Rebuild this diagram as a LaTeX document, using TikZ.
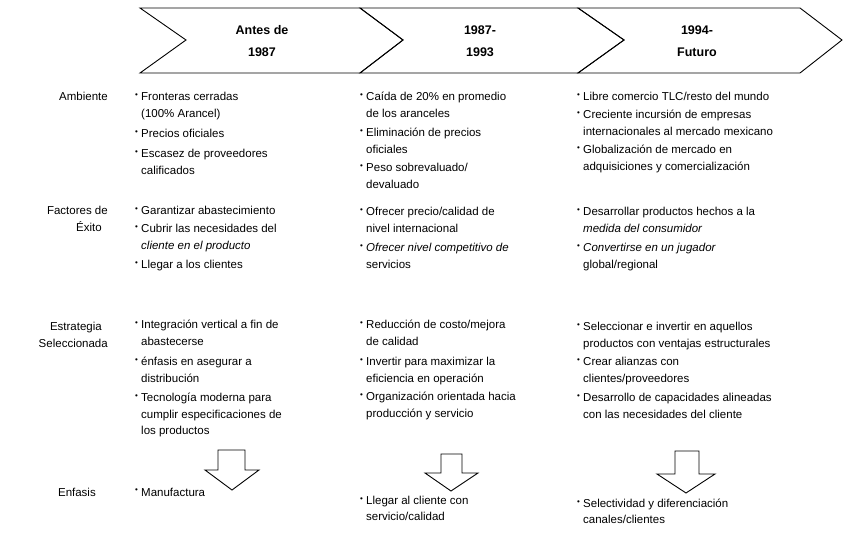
\documentclass[tikz,border=0pt]{standalone}
\usepackage{fontspec}
\setmainfont{Liberation Sans}
\usepackage{tikz}

\newcommand{\vin}[1]{\parbox[t]{260pt}{\hangindent=6pt\hangafter=1\makebox[6pt][l]{\raisebox{3pt}{\footnotesize\textbullet}}#1}}

\begin{document}
\begin{tikzpicture}[x=1pt, y=-1pt,
  every node/.style={inner sep=0pt, font=\fontsize{11.5}{16.5}\selectfont},
  rotulo/.style={anchor=base east},
  punto/.style={anchor=base west},
  periodo/.style={align=center, font=\fontsize{12.5}{22}\selectfont\bfseries},
  borde/.style={draw, line width=0.9pt, line join=miter}]

  \useasboundingbox (0,0) rectangle (844,537);

  \draw[borde] (140,8) -- (360,8) -- (403,40) -- (360,73) -- (140,73) -- (186,40) -- cycle;
  \draw[borde] (360,8) -- (578,8) -- (624,40) -- (578,73) -- (360,73) -- (403,40) -- cycle;
  \draw[borde] (578,8) -- (800,8) -- (842,40) -- (800,73) -- (578,73) -- (624,40) -- cycle;
  \node[periodo] (antes) at (262,41) {Antes de\\1987};
  \node[periodo] (medio) at (480,41) {1987-\\1993};
  \node[periodo] (futuro) at (697,41) {1994-\\Futuro};

  \node[rotulo] (amb) at (108,101) {Ambiente};
  \node[rotulo] (fac) at (108,215) {Factores de};
  \node[rotulo] (exi) at (102,232) {Éxito};
  \node[rotulo] (est) at (102,331) {Estrategia};
  \node[rotulo] (sel) at (108,348) {Seleccionada};
  \node[rotulo] (enf) at (96,496) {Enfasis};

  \node[punto] (amb1a) at (135,101) {\vin{Fronteras cerradas\\(100\% Arancel)}};
  \node[punto] (amb1b) at (135,138) {\vin{Precios oficiales}};
  \node[punto] (amb1c) at (135,158) {\vin{Escasez de proveedores\\calificados}};
  \node[punto] (amb2a) at (360,101) {\vin{Caída de 20\% en promedio\\de los aranceles}};
  \node[punto] (amb2b) at (360,137) {\vin{Eliminación de precios\\oficiales}};
  \node[punto] (amb2c) at (360,172) {\vin{Peso sobrevaluado/\\devaluado}};
  \node[punto] (amb3a) at (577,101) {\vin{Libre comercio TLC/resto del mundo}};
  \node[punto] (amb3b) at (577,119) {\vin{Creciente incursión de empresas\\internacionales al mercado mexicano}};
  \node[punto] (amb3c) at (577,154) {\vin{Globalización de mercado en\\adquisiciones y comercialización}};

  \node[punto] (fac1a) at (135,215) {\vin{Garantizar abastecimiento}};
  \node[punto] (fac1b) at (135,233) {\vin{Cubrir las necesidades del\\\textit{cliente en el producto}}};
  \node[punto] (fac1c) at (135,269) {\vin{Llegar a los clientes}};
  \node[punto] (fac2a) at (360,216) {\vin{Ofrecer precio/calidad de\\nivel internacional}};
  \node[punto] (fac2b) at (360,252) {\vin{\textit{Ofrecer nivel competitivo de}\\servicios}};
  \node[punto] (fac3a) at (577,216) {\vin{Desarrollar productos hechos a la\\\textit{medida del consumidor}}};
  \node[punto] (fac3b) at (577,252) {\vin{\textit{Convertirse en un jugador}\\global/regional}};

  \node[punto] (est1a) at (135,329) {\vin{Integración vertical a fin de\\abastecerse}};
  \node[punto] (est1b) at (135,366) {\vin{énfasis en asegurar a\\distribución}};
  \node[punto] (est1c) at (135,402) {\vin{Tecnología moderna para\\cumplir especificaciones de\\los productos}};
  \node[punto] (est2a) at (360,329) {\vin{Reducción de costo/mejora\\de calidad}};
  \node[punto] (est2b) at (360,366) {\vin{Invertir para maximizar la\\eficiencia en operación}};
  \node[punto] (est2c) at (360,401) {\vin{Organización orientada hacia\\producción y servicio}};
  \node[punto] (est3a) at (577,331) {\vin{Seleccionar e invertir en aquellos\\productos con ventajas estructurales}};
  \node[punto] (est3b) at (577,366) {\vin{Crear alianzas con\\clientes/proveedores}};
  \node[punto] (est3c) at (577,402) {\vin{Desarrollo de capacidades alineadas\\con las necesidades del cliente}};

  \draw[borde] (218,450) -- (245,450) -- (245,470) -- (259,470) -- (232,490) -- (205,470) -- (218,470) -- cycle;
  \draw[borde] (441,454) -- (462,454) -- (462,473) -- (478,473) -- (451,491) -- (425,473) -- (441,473) -- cycle;
  \draw[borde] (675,451) -- (699,451) -- (699,474) -- (715,474) -- (686,493) -- (657,474) -- (675,474) -- cycle;

  \node[punto] (enf1) at (135,496) {\vin{Manufactura}};
  \node[punto] (enf2) at (360,504) {\vin{Llegar al cliente con\\servicio/calidad}};
  \node[punto] (enf3) at (577,507) {\vin{Selectividad y diferenciación\\canales/clientes}};
\end{tikzpicture}
\end{document}
